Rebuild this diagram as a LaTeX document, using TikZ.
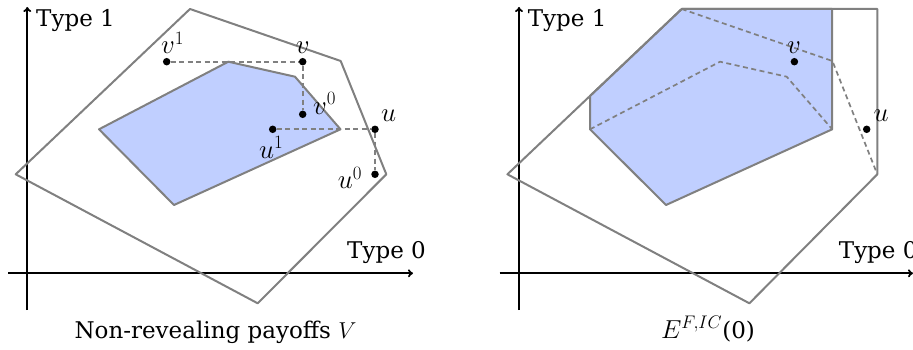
\RequirePackage{fix-cm}
\documentclass[tikz,border=0pt]{standalone}
\usepackage{fontspec}
\setmainfont{DejaVu Serif}
\usetikzlibrary{arrows.meta}
\definecolor{regionblue}{RGB}{192,207,255}
\definecolor{edgegray}{RGB}{128,128,128}
\begin{document}
\begin{tikzpicture}[x=1pt,y=-1pt,
  edge/.style={draw=edgegray,line width=2pt,line join=round},
  guide/.style={draw=edgegray,line width=1.7pt,dash pattern=on 5pt off 3.5pt},
  axis/.style={draw=black,line width=1.8pt,-{To[length=5pt,width=8pt]}},
  dot/.style={circle,fill=black,inner sep=0pt,minimum size=7.5pt},
  lbl/.style={inner sep=0pt,font=\fontsize{23}{27}\selectfont},
  mlbl/.style={inner sep=0pt,font=\fontsize{27}{31}\selectfont},
]
\useasboundingbox (0,0) rectangle (913,350);
% ---------------- left panel ----------------
\coordinate (Lo) at (8,273.3);
\coordinate (Lx) at (413,273.3);
\coordinate (Lb) at (27.3,310);
\coordinate (Lt) at (27.3,7);
\draw[axis] (Lo) -- (Lx);
\draw[axis] (Lb) -- (Lt);
\coordinate (a1) at (99,129.3);
\coordinate (a2) at (228.3,61.7);
\coordinate (a3) at (295,76.7);
\coordinate (a4) at (340.5,129.3);
\coordinate (a5) at (174,205);
\coordinate (b1) at (190,9);
\coordinate (b2) at (340.7,61);
\coordinate (b3) at (386.3,174.3);
\coordinate (b4) at (257.7,303.3);
\coordinate (b5) at (15.7,174.3);
\filldraw[edge,fill=regionblue] (a1) -- (a2) -- (a3) -- (a4) -- (a5) -- cycle;
\draw[edge] (b1) -- (b2) -- (b3) -- (b4) -- (b5) -- cycle;
\node[dot] (v1) at (166.7,61.7) {};
\node[dot] (v)  at (302.7,61.7) {};
\node[dot] (v0) at (302.7,114.3) {};
\node[dot] (u1) at (272.7,129.3) {};
\node[dot] (u)  at (375,129.3) {};
\node[dot] (u0) at (375,174.3) {};
\draw[guide] (v1) -- (v) -- (v0);
\draw[guide] (u1) -- (u) -- (u0);
\node[mlbl,anchor=base west] (lv1) at (161,54) {$v^1$};
\node[mlbl,anchor=base] (lv) at (302.7,54) {$v$};
\node[mlbl,anchor=base west] (lv0) at (313,114.5) {$v^0$};
\node[mlbl,anchor=base west] (lu) at (381,121.7) {$u$};
\node[mlbl,anchor=base west] (lu1) at (259,158) {$u^1$};
\node[mlbl,anchor=base west] (lu0) at (337.7,189) {$u^0$};
\node[lbl,anchor=base west] (ly) at (36,26.7) {Type 1};
\node[lbl,anchor=base west] (lx) at (347,258) {Type 0};
\node[lbl,anchor=base] (cap1) at (215.5,338) {Non-revealing payoffs $V$};
% ---------------- right panel ----------------
\begin{scope}[xshift=491.7pt]
\coordinate (Ro) at (8,273.3);
\coordinate (Rx) at (421.3,273.3);
\coordinate (Rb) at (27.3,310);
\coordinate (Rt) at (27.3,7);
\draw[axis] (Ro) -- (Rx);
\draw[axis] (Rb) -- (Rt);
\coordinate (c1) at (98.3,96);
\coordinate (c2) at (190,9);
\coordinate (c3) at (340.5,9);
\coordinate (c4) at (340.5,129.3);
\coordinate (c5) at (174.3,205);
\coordinate (c6) at (98.3,129.3);
\coordinate (d1) at (15.7,174.3);
\coordinate (d2) at (190,9);
\coordinate (d3) at (385.6,9);
\coordinate (d4) at (385.6,174.3);
\coordinate (d5) at (257.7,303.3);
\filldraw[edge,fill=regionblue] (c1) -- (c2) -- (c3) -- (c4) -- (c5) -- (c6) -- cycle;
\draw[edge] (d1) -- (d2) -- (d3) -- (d4) -- (d5) -- cycle;
\coordinate (e1) at (340.7,61);
\coordinate (f1) at (98.3,129.3);
\coordinate (f2) at (228.3,61.7);
\coordinate (f3) at (295,76.7);
\draw[guide] (d2) -- (e1) -- (d4);
\draw[guide] (f1) -- (f2) -- (f3) -- (c4);
\node[dot] (rv) at (302.7,61.7) {};
\node[dot] (ru) at (375,129.3) {};
\node[mlbl,anchor=base] (lrv) at (302.3,54) {$v$};
\node[mlbl,anchor=base west] (lru) at (381.6,121.7) {$u$};
\node[lbl,anchor=base west] (ry) at (36,26.7) {Type 1};
\node[lbl,anchor=base west] (rx) at (347,258) {Type 0};
\node[lbl,anchor=base] (cap2) at (216.3,338) {{\fontsize{26}{30}\selectfont$E^{F,IC}$}(0)};
\end{scope}
\end{tikzpicture}
\end{document}
